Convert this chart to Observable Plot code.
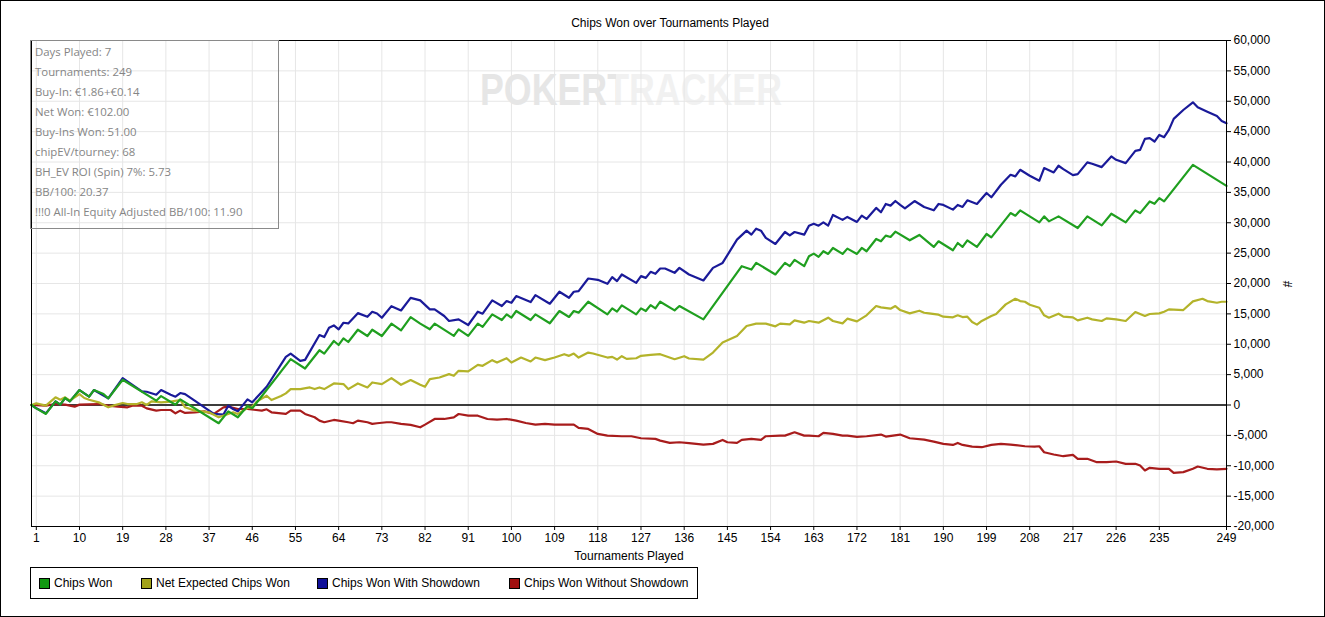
<!DOCTYPE html>
<html><head><meta charset="utf-8">
<script src="https://cdn.jsdelivr.net/npm/d3@7"></script>
<script src="https://cdn.jsdelivr.net/npm/@observablehq/plot@0.6"></script>
<style>
html,body{margin:0;padding:0;background:#fff;}
#root{position:relative;width:1325px;height:617px;overflow:hidden;font-family:"Liberation Sans",Arial,sans-serif;font-size:12px;color:#000;}
#border{position:absolute;left:0;top:0;width:1323px;height:615px;border:1px solid #000;z-index:5;pointer-events:none;}
#wm{position:absolute;left:0;top:0;z-index:0;}
#chart{position:absolute;left:0;top:0;z-index:1;}
#title{position:absolute;top:16px;left:670px;transform:translateX(-50%);white-space:nowrap;z-index:3;}
#xlabel{position:absolute;top:549px;left:629px;transform:translateX(-50%);white-space:nowrap;z-index:3;}
#ylabel{position:absolute;top:277px;left:1284px;transform:rotate(90deg);z-index:3;}
#stats{position:absolute;left:30px;top:40px;width:247px;height:187px;border:1px solid #8a8a8a;z-index:4;font-family:"Open Sans","Noto Sans",sans-serif;font-size:11.4px;color:#858585;}
#stats div{position:absolute;left:4px;white-space:nowrap;line-height:16px;}
#legend{position:absolute;left:30px;top:567px;width:666px;height:30px;border:1px solid #000;z-index:3;}
.li{position:absolute;top:0;height:30px;line-height:30px;white-space:nowrap;}
.sw{position:absolute;width:9px;height:9px;border:1px solid #000;top:10px;}
</style></head><body>
<div id="root">
  <svg id="wm" width="1325" height="617"></svg>
  <div id="chart"></div>
  <div id="title"></div>
  <div id="xlabel"></div>
  <div id="ylabel">#</div>
  <div id="stats"></div>
  <div id="legend"></div>
  <div id="border"></div>
</div>
<script>
const titleText = "Chips Won over Tournaments Played";
const xLabelText = "Tournaments Played";
const watermarkText = "POKERTRACKER";
const statsLines = ["Days Played: 7","Tournaments: 249","Buy-In: €1.86+€0.14","Net Won: €102.00","Buy-Ins Won: 51.00","chipEV/tourney: 68","BH_EV ROI (Spin) 7%: 5.73","BB/100: 20.37","!!!0 All-In Equity Adjusted BB/100: 11.90"];
const seriesNames = ["Chips Won","Net Expected Chips Won","Chips Won With Showdown","Chips Won Without Showdown"];
const lineColors = ["#1f9f1f","#b3b32a","#1a1a99","#a81c1c"];
const swatchColors = ["#119911","#a3a31a","#101099","#a01010"];
const xTicks = [1,10,19,28,37,46,55,64,73,82,91,100,109,118,127,136,145,154,163,172,181,190,199,208,217,226,235,249];
const yTicks = [-20000,-15000,-10000,-5000,0,5000,10000,15000,20000,25000,30000,35000,40000,45000,50000,55000,60000];

// [tournament, chips]
const chipsWon = [[0,0],[1,-550],[3,-1470],[5,600],[6,50],[7,1150],[8,600],[10,2460],[12,1370],[13,2460],[15,1800],[16,1090],[19,4150],[26,710],[27,1470],[30,50],[31,930],[39,-3000],[41,-1040],[43,-2020],[45,-160],[46,-550],[54,7540],[57,6010],[60,9010],[61,8460],[63,10540],[64,9880],[65,10980],[66,10370],[68,12390],[70,11360],[71,12390],[73,11360],[75,13380],[77,12290],[79,14470],[81,13390],[83,12460],[84,13390],[88,11370],[89,12460],[91,11370],[93,13390],[94,12850],[96,14920],[98,13990],[99,14920],[100,14380],[101,15470],[104,13990],[105,14920],[108,13450],[110,15470],[112,14490],[113,15470],[114,15200],[116,17000],[120,14920],[121,15910],[122,15360],[123,16400],[126,14920],[127,15910],[128,15470],[129,16450],[130,15910],[131,17000],[134,15580],[135,16290],[140,14100],[148,22850],[150,22300],[151,23400],[155,21490],[157,23400],[158,22850],[159,23890],[161,22850],[162,24490],[163,24920],[164,24380],[165,25310],[166,24870],[167,25850],[169,24870],[170,25740],[172,24870],[173,25850],[174,25310],[176,27330],[177,26950],[178,27880],[179,27660],[180,28530],[183,27110],[185,27990],[188,26020],[189,26950],[192,25470],[193,26670],[194,26020],[195,27110],[197,26020],[199,28150],[200,27600],[204,31590],[205,31160],[206,32030],[210,30060],[211,31050],[212,30230],[214,31050],[218,29130],[220,31050],[223,29570],[225,31490],[228,30060],[230,32030],[231,31590],[233,33510],[234,33120],[235,34050],[236,33510],[242,39520],[249,36080]];

const netExpected = [[0,0],[1,270],[3,-110],[5,1260],[6,870],[7,1260],[8,710],[10,1800],[11,1150],[12,870],[14,440],[16,-380],[17,-110],[19,330],[20,160],[22,160],[23,440],[24,0],[25,600],[27,440],[29,550],[31,820],[32,-380],[34,-930],[37,-1200],[39,-2020],[41,-1470],[42,-1200],[43,-1470],[45,-490],[46,-270],[47,600],[49,1530],[50,820],[52,1470],[53,1910],[54,2620],[56,2620],[58,2890],[59,2620],[60,2890],[61,2620],[63,3550],[65,3440],[66,2620],[68,3550],[70,2890],[71,3710],[73,3440],[75,4420],[77,3330],[79,4100],[81,3330],[82,3000],[83,4260],[85,4530],[87,5080],[88,4810],[89,5630],[91,5520],[93,6610],[94,6450],[96,7380],[97,6990],[99,7700],[100,6990],[102,7810],[104,7160],[105,7810],[107,7380],[109,7810],[111,8360],[112,8090],[113,8470],[114,7810],[116,8630],[117,8470],[120,7810],[121,7920],[122,7480],[123,8030],[124,7590],[126,7700],[127,8090],[129,8250],[131,8360],[134,7540],[136,8030],[137,7650],[140,7480],[142,8630],[144,10270],[147,11370],[149,13010],[151,13390],[153,13390],[155,12950],[156,13390],[158,13280],[159,13940],[161,13550],[162,13830],[164,13550],[166,14370],[167,13830],[169,13440],[170,14210],[172,13770],[174,14760],[176,16290],[177,16070],[179,15850],[180,16290],[181,15630],[183,15080],[185,15520],[186,15190],[187,15080],[189,14870],[190,14540],[192,14430],[193,14760],[194,14480],[195,14540],[196,13660],[197,13230],[198,13830],[200,14650],[201,14980],[203,16560],[205,17490],[206,17110],[207,17000],[208,16510],[210,16010],[211,14760],[212,14370],[214,15030],[215,14540],[217,14430],[218,13940],[220,14370],[221,14100],[223,13830],[224,14260],[226,14100],[228,13830],[230,15300],[232,14650],[233,14980],[235,15080],[236,15360],[237,15740],[240,15630],[242,17050],[244,17490],[245,17110],[247,16830],[248,17000],[249,17000]];

const withShowdown = [[0,0],[1,-550],[3,-1370],[5,600],[6,50],[7,1150],[8,600],[10,2460],[12,1370],[13,2460],[16,1090],[19,4420],[23,2240],[24,2180],[26,1690],[27,2460],[29,1690],[30,1370],[31,1970],[32,1800],[34,710],[38,-1470],[40,-1580],[41,-110],[42,-660],[43,-1040],[45,930],[46,440],[49,3000],[53,7920],[54,8460],[56,7260],[57,7430],[60,11520],[61,11190],[62,12720],[63,13100],[64,12450],[65,13540],[66,13430],[68,15120],[70,14520],[71,15340],[72,15070],[73,14360],[75,16270],[77,15560],[79,17640],[81,17220],[83,15740],[84,15740],[86,14650],[87,13830],[89,14100],[91,13170],[93,15360],[94,15030],[96,17220],[98,16290],[99,17110],[100,16830],[101,17930],[104,16940],[105,18090],[108,16670],[110,18640],[112,17650],[113,18640],[114,18750],[116,20820],[118,20610],[120,19950],[121,21040],[122,20390],[123,21480],[126,20110],[127,21210],[128,20930],[129,21920],[130,21590],[131,22470],[132,22470],[134,21750],[135,22570],[137,21480],[140,20500],[142,22570],[144,23390],[147,27220],[149,28700],[150,28040],[151,29030],[152,28700],[153,27500],[155,26510],[157,28480],[158,27930],[159,28480],[161,28040],[162,29520],[163,29840],[164,29520],[165,30060],[166,29520],[167,31290],[169,30470],[170,30960],[172,30140],[173,31180],[174,30630],[176,32440],[177,31730],[178,33090],[179,32820],[180,33580],[181,32930],[182,32380],[184,33580],[186,32600],[188,32050],[189,33090],[190,32930],[192,32160],[193,32930],[194,32600],[195,33690],[197,33090],[199,34900],[200,34190],[202,36260],[204,37900],[205,37630],[206,38720],[208,37740],[210,36920],[211,39000],[213,38290],[214,39380],[215,38830],[217,37850],[218,38010],[220,39930],[221,39710],[223,39160],[225,40910],[226,40360],[228,39820],[230,41840],[231,42000],[232,43810],[233,43920],[234,43370],[235,44460],[236,44080],[237,45280],[238,47090],[240,48560],[242,49820],[243,49000],[245,48290],[247,47580],[248,46760],[249,46380]];

const withoutShowdown = [[0,0],[3,-110],[5,160],[7,60],[9,-270],[10,60],[14,160],[16,-110],[18,-270],[20,-380],[21,-110],[23,-110],[24,-550],[26,-930],[27,-820],[29,-820],[30,-1370],[31,-930],[32,-1310],[34,-1200],[36,-1040],[38,-1470],[40,-380],[41,-270],[43,-660],[45,-660],[48,-930],[49,-710],[50,-1200],[53,-1470],[54,-930],[56,-930],[57,-1470],[59,-2020],[60,-2570],[61,-2840],[63,-2460],[64,-2570],[66,-2840],[67,-3000],[68,-2570],[70,-2840],[71,-3110],[72,-3000],[74,-2840],[75,-2840],[77,-3110],[79,-3280],[81,-3670],[82,-3230],[84,-2300],[86,-2300],[88,-2030],[89,-1480],[91,-1760],[93,-1760],[95,-2300],[97,-2410],[99,-2300],[101,-2580],[103,-2960],[105,-3230],[107,-3120],[109,-3230],[113,-3230],[114,-3780],[116,-3940],[118,-4760],[120,-5040],[123,-5140],[125,-5140],[127,-5470],[130,-5580],[131,-5860],[133,-6240],[135,-6130],[137,-6290],[140,-6510],[142,-6400],[144,-5750],[145,-6130],[147,-6240],[148,-5750],[150,-5580],[152,-5750],[153,-5140],[156,-5040],[157,-5040],[159,-4490],[161,-5040],[162,-5040],[164,-5140],[165,-4600],[167,-4760],[169,-5040],[170,-5040],[172,-5250],[174,-5140],[177,-4870],[178,-5200],[181,-4870],[183,-5470],[186,-5690],[188,-6020],[190,-6400],[192,-6570],[193,-6240],[194,-6570],[196,-6840],[198,-6950],[200,-6570],[202,-6400],[204,-6510],[207,-6790],[209,-6840],[210,-6790],[211,-7770],[213,-8150],[215,-8430],[217,-8210],[218,-8860],[220,-8860],[222,-9410],[224,-9410],[226,-9300],[228,-9680],[230,-9680],[231,-9960],[232,-10780],[233,-10340],[235,-10500],[237,-10500],[238,-11160],[240,-11050],[242,-10500],[243,-10120],[245,-10500],[247,-10610],[249,-10500]];

const seriesData = [chipsWon, netExpected, withShowdown, withoutShowdown];
const drawOrder = [3, 2, 1, 0];
const fmt = d => d.toLocaleString("en-US");

const lineMarks = drawOrder.map(i => Plot.line(seriesData[i], {
  x: d => d[0], y: d => d[1], stroke: lineColors[i], strokeWidth: 2.2, strokeLinejoin: "round"
}));

const chart = Plot.plot({
  width: 1325, height: 570,
  marginLeft: 31, marginRight: 99, marginTop: 40, marginBottom: 44,
  style: {background: "transparent", fontFamily: '"Liberation Sans", Arial, sans-serif', fontSize: "12px", color: "#000", overflow: "visible"},
  x: {domain: [0, 249]},
  y: {domain: [-20000, 60000]},
  marks: [
    Plot.gridX(xTicks, {stroke: "#e6e6e6", strokeOpacity: 1}),
    Plot.gridY(yTicks, {stroke: "#e6e6e6", strokeOpacity: 1}),
    Plot.ruleY([0], {stroke: "#000", strokeWidth: 1.3}),
    ...lineMarks,
    Plot.frame({stroke: "#000"}),
    Plot.axisX(xTicks, {anchor: "bottom", tickSize: 4, tickPadding: 3, tickFormat: d => String(d), label: null, fontSize: 12}),
    Plot.axisY(yTicks, {anchor: "right", tickSize: 4, tickPadding: 3, tickFormat: fmt, label: null, fontSize: 12})
  ]
});
document.getElementById("chart").appendChild(chart);

document.getElementById("title").textContent = titleText;
document.getElementById("xlabel").textContent = xLabelText;

const stats = document.getElementById("stats");
statsLines.forEach((s, i) => {
  const d = document.createElement("div");
  d.textContent = s;
  d.style.top = (3 + 20 * i) + "px";
  stats.appendChild(d);
});

const legend = document.getElementById("legend");
const legendX = [8, 110, 286, 478];
seriesNames.forEach((n, i) => {
  const item = document.createElement("div");
  item.className = "li";
  item.style.left = legendX[i] + "px";
  const sw = document.createElement("div");
  sw.className = "sw";
  sw.style.left = "0px";
  sw.style.background = swatchColors[i];
  const tx = document.createElement("span");
  tx.style.marginLeft = "15px";
  tx.textContent = n;
  item.appendChild(sw);
  item.appendChild(tx);
  legend.appendChild(item);
});

// watermark: one text element, two-tone via a hard-stop gradient
const wm = d3.select("#wm");
const grad = wm.append("defs").append("linearGradient").attr("id", "wmgrad")
  .attr("gradientUnits", "userSpaceOnUse").attr("x1", 480).attr("x2", 782).attr("y1", 0).attr("y2", 0);
grad.append("stop").attr("offset", "0.45").attr("stop-color", "#e6e6e6");
grad.append("stop").attr("offset", "0.45").attr("stop-color", "#f1f1f1");
wm.append("text").attr("x", 480).attr("y", 105)
  .attr("font-family", '"Liberation Sans", Arial, sans-serif').attr("font-size", 44).attr("font-weight", "bold")
  .attr("textLength", 302).attr("lengthAdjust", "spacingAndGlyphs")
  .attr("fill", "url(#wmgrad)").text(watermarkText);
</script>
</body></html>
